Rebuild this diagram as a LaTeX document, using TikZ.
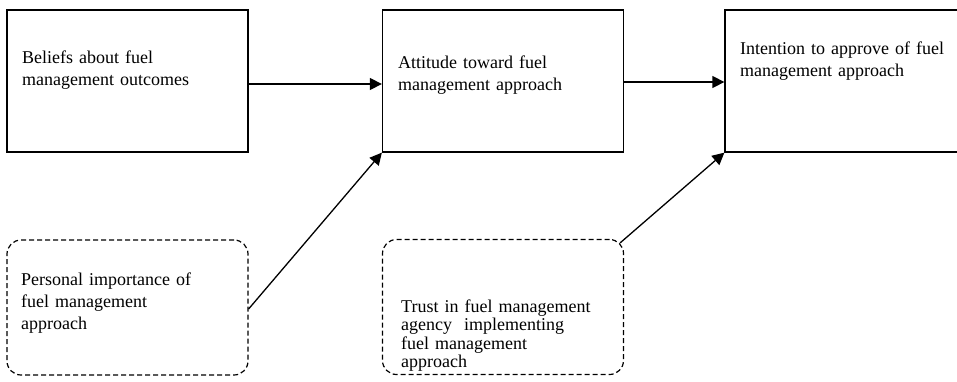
\documentclass[tikz,border=0pt]{standalone}
\usepackage{fontspec}
\setmainfont{Liberation Serif}
\usetikzlibrary{arrows.meta}
\begin{document}
\begin{tikzpicture}[x=1pt,y=-1pt,
  solidbox/.style={draw,line width=1.3pt,minimum width=241pt,minimum height=142pt,inner sep=0pt},
  dashbox/.style={draw,line width=1.2pt,dash pattern=on 5pt off 3pt,rounded corners=14pt,minimum width=241pt,minimum height=135pt,inner sep=0pt},
  lbl/.style={anchor=base west,inner sep=0pt,text width=240pt,align=left,font=\fontsize{18}{22}\selectfont},
  lbltight/.style={lbl,font=\fontsize{18}{18.5}\selectfont},
  arr/.style={line width=1.3pt,-{Triangle[length=12pt,width=12pt]}}]
\useasboundingbox[fill=white] (0,0) rectangle (957,381);
% boxes
\node[solidbox] (b1) at (127.5,81) {};
\node[solidbox] (b2) at (503,81) {};
\node[solidbox,minimum width=240pt] (b3) at (845,81) {};
\node[dashbox] (d1) at (127.5,307.5) {};
\node[dashbox] (d2) at (503,307) {};
% labels
\node[lbl] (t1) at (22,63) {Beliefs about fuel\\management outcomes};
\node[lbl] (t2) at (398,68) {Attitude toward fuel\\management approach};
\node[lbl] (t3) at (740,54) {Intention to approve of fuel\\management approach};
\node[lbl] (t4) at (21,285) {Personal importance of\\fuel management\\approach};
\node[lbltight] (t5) at (401,312) {Trust in fuel management\\agency\ \ implementing\\fuel management\\approach};
% connectors
\draw[arr] ([yshift=-3pt]b1.east) -- ([yshift=-3pt]b2.west);
\draw[arr] ([yshift=-1pt]b2.east) -- ([yshift=-1pt]b3.west);
\draw[arr] ([yshift=-1.5pt]d1.east) -- (b2.south west);
\draw[arr] ([shift={(-4,4)}]d2.north east) -- (b3.south west);
\end{tikzpicture}
\end{document}
